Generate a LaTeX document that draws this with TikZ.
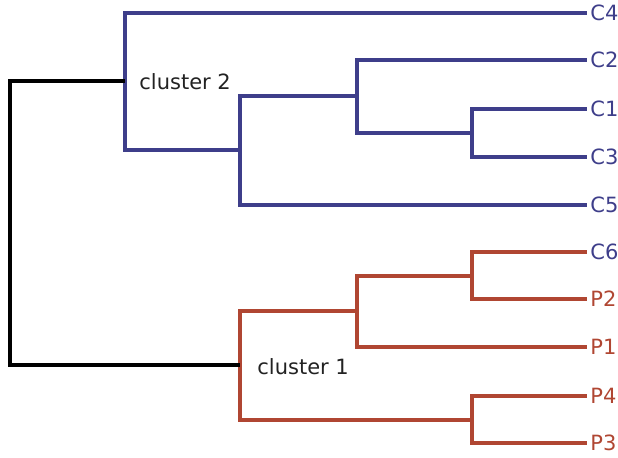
\documentclass[tikz,border=0pt]{standalone}
\usepackage{fontspec}
\setmainfont{DejaVu Sans}
\definecolor{clblue}{RGB}{62,62,138}
\definecolor{clred}{RGB}{176,70,50}
\definecolor{cltext}{RGB}{34,34,34}
\begin{document}
\begin{tikzpicture}[x=0.5pt, y=-0.5pt, font=\fontsize{10.5}{12}\selectfont,
                    leaf/.style={anchor=west, inner sep=1.5pt},
                    branch/.style={line width=1.7pt, line join=miter},
                    tag/.style={anchor=base west, inner sep=0pt, text=cltext}]
                    \useasboundingbox (0,0) rectangle (618,458);

                    % leaves
                    \node[leaf, text=clblue] (C4) at (587,  13) {C4};
                    \node[leaf, text=clblue] (C2) at (587,  60) {C2};
                    \node[leaf, text=clblue] (C1) at (587, 109) {C1};
                    \node[leaf, text=clblue] (C3) at (587, 157) {C3};
                    \node[leaf, text=clblue] (C5) at (587, 205) {C5};
                    \node[leaf, text=clblue] (C6) at (587, 252) {C6};
                    \node[leaf, text=clred]  (P2) at (587, 299) {P2};
                    \node[leaf, text=clred]  (P1) at (587, 347) {P1};
                    \node[leaf, text=clred]  (P4) at (587, 396) {P4};
                    \node[leaf, text=clred]  (P3) at (587, 443) {P3};

                    % joins
                    \coordinate (B13) at (472, 133);
                    \coordinate (B2)  at (357,  96);
                    \coordinate (B5)  at (240, 150);
                    \coordinate (B4)  at (125,  81);
                    \coordinate (R6)  at (472, 276);
                    \coordinate (R1)  at (357, 311);
                    \coordinate (R34) at (472, 420);
                    \coordinate (R)   at (240, 365);
                    \coordinate (root) at (10, 223);

                    \draw[branch, clblue] (C1.west) -| (B13) |- (C3.west);
                    \draw[branch, clblue] (C2.west) -| (B2) |- (B13);
                    \draw[branch, clblue] (B2) -| (B5) |- (C5.west);
                    \draw[branch, clblue] (C4.west) -| (B4) |- (B5);

                    \draw[branch, clred] (C6.west) -| (R6) |- (P2.west);
                    \draw[branch, clred] (R6) -| (R1) |- (P1.west);
                    \draw[branch, clred] (P4.west) -| (R34) |- (P3.west);
                    \draw[branch, clred] (R1) -| (R) |- (R34);

                    \draw[branch, black] (B4) -| (root) |- (R);

                    \node[tag] (cl2) at (139, 90) {cluster 2};
                    \node[tag] (cl1) at (257, 375) {cluster 1};
                \end{tikzpicture}
\end{document}
